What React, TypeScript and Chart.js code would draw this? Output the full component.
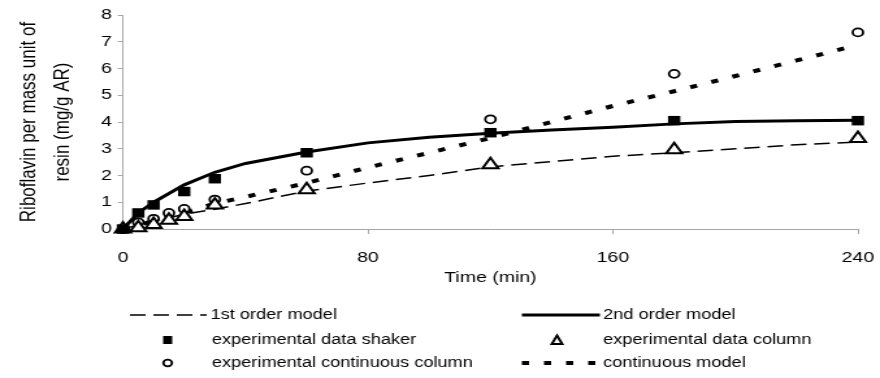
import React, { useEffect, useRef } from 'react';
import { Chart, registerables } from 'chart.js';

Chart.register(...registerables);

// The reference is horizontally stretched; draw at a narrower width and stretch by CSS.
const STRETCH = 1.3;
const WIDTH = 880;
const HEIGHT = 378;
const CW = Math.round(WIDTH / STRETCH);
const FONT = "'Liberation Sans', Arial, sans-serif";

// ---- data ----
const modelTime = [0, 5, 10, 20, 30, 40, 60, 80, 100, 120, 140, 160, 180, 200, 220, 240];
const firstOrder = [0, 0.15, 0.3, 0.55, 0.74, 0.95, 1.42, 1.72, 2.0, 2.32, 2.52, 2.72, 2.85, 3.0, 3.15, 3.25];
const secondOrder = [0, 0.6, 1.0, 1.65, 2.12, 2.45, 2.88, 3.22, 3.43, 3.58, 3.7, 3.8, 3.93, 4.02, 4.05, 4.07];
const continuousModel = [0, 0.15, 0.3, 0.6, 0.95, 1.2, 1.72, 2.3, 2.85, 3.4, 4.0, 4.6, 5.15, 5.72, 6.3, 6.88];

const shakerTime = [0, 5, 10, 20, 30, 60, 120, 180, 240];
const shakerData = [0, 0.6, 0.9, 1.4, 1.88, 2.85, 3.6, 4.05, 4.05];

const columnTime = [0, 5, 10, 15, 20, 30, 60, 120, 180, 240];
const columnData = [0, 0.05, 0.17, 0.33, 0.47, 0.9, 1.47, 2.4, 2.96, 3.38];

const contTime = [0, 5, 10, 15, 20, 30, 60, 120, 180, 240];
const contData = [0, 0.25, 0.38, 0.6, 0.75, 1.1, 2.18, 4.1, 5.8, 7.35];

const xTicks = [0, 80, 160, 240];
const yTitle = ['Riboflavin per mass unit of', 'resin (mg/g AR)'];
const xTitle = 'Time (min)';
const labels = [
  '1st order model',
  '2nd order model',
  'experimental data shaker',
  'experimental data column',
  'experimental continuous column',
  'continuous model',
];

const DASH_1ST = [12, 6];
const DASH_CONT = [5.5, 11.5];

const pts = (xs: number[], ys: number[]) => xs.map((x, i) => ({ x, y: ys[i] }));

export default function App() {
  const ref = useRef<HTMLCanvasElement>(null);

  useEffect(() => {
    const canvas = ref.current!;

    const legendPlugin = {
      id: 'customLegend',
      afterDraw(chart: any) {
        const ctx: CanvasRenderingContext2D = chart.ctx;
        ctx.save();
        ctx.fillStyle = '#000';
        ctx.strokeStyle = '#000';
        ctx.font = `14px ${FONT}`;
        ctx.textBaseline = 'middle';
        ctx.textAlign = 'left';
        const rows = [315, 340, 363];
        const lx1 = 100, lx2 = 159, ltext = 162, lsym = 129, ltext2 = 163;
        const rx1 = 401.5, rx2 = 461.5, rtext = 464, rsym = 428.5;

        const drawLine = (x1: number, x2: number, y: number, w: number, dash: number[]) => {
          ctx.save();
          ctx.lineWidth = w;
          ctx.setLineDash(dash);
          ctx.beginPath();
          ctx.moveTo(x1, y);
          ctx.lineTo(x2, y);
          ctx.stroke();
          ctx.restore();
        };

        // row 1
        drawLine(lx1, lx2, rows[0], 1.5, DASH_1ST);
        ctx.fillText(labels[0], ltext, rows[0]);
        drawLine(rx1, rx2, rows[0], 3, []);
        ctx.fillText(labels[1], rtext, rows[0]);

        // row 2
        ctx.fillRect(lsym - 3.5, rows[1] - 4, 7, 8);
        ctx.fillText(labels[2], ltext2, rows[1]);
        ctx.save();
        ctx.lineWidth = 2;
        ctx.beginPath();
        ctx.moveTo(rsym, rows[1] - 4.5);
        ctx.lineTo(rsym + 4, rows[1] + 4);
        ctx.lineTo(rsym - 4, rows[1] + 4);
        ctx.closePath();
        ctx.stroke();
        ctx.restore();
        ctx.fillText(labels[3], rtext, rows[1]);

        // row 3
        ctx.save();
        ctx.lineWidth = 1.8;
        ctx.beginPath();
        ctx.arc(lsym, rows[2], 3.3, 0, Math.PI * 2);
        ctx.stroke();
        ctx.restore();
        ctx.fillText(labels[4], ltext2, rows[2]);
        drawLine(rx1, rx2, rows[2], 4, DASH_CONT);
        ctx.fillText(labels[5], rtext, rows[2]);
        ctx.restore();
      },
    };

    const chart = new Chart(canvas, {
      type: 'line',
      data: {
        datasets: [
          {
            label: labels[0],
            data: pts(modelTime, firstOrder),
            borderColor: '#000',
            borderWidth: 1.5,
            borderDash: DASH_1ST,
            pointRadius: 0,
            fill: false,
            tension: 0,
            clip: false,
            order: 3,
          },
          {
            label: labels[1],
            data: pts(modelTime, secondOrder),
            borderColor: '#000',
            borderWidth: 3,
            pointRadius: 0,
            fill: false,
            tension: 0,
            clip: false,
            order: 3,
          },
          {
            label: labels[5],
            data: pts(modelTime, continuousModel),
            borderColor: '#000',
            borderWidth: 4,
            borderDash: DASH_CONT,
            pointRadius: 0,
            fill: false,
            tension: 0,
            clip: false,
            order: 3,
          },
          {
            label: labels[2],
            data: pts(shakerTime, shakerData),
            showLine: false,
            pointStyle: 'rect',
            pointRadius: 6.7,
            pointBackgroundColor: '#000',
            pointBorderColor: '#000',
            pointBorderWidth: 0,
            clip: false,
            order: 1,
          },
          {
            label: labels[3],
            data: pts(columnTime, columnData),
            showLine: false,
            pointStyle: 'triangle',
            pointRadius: 7,
            pointBackgroundColor: '#fff',
            pointBorderColor: '#000',
            pointBorderWidth: 2,
            clip: false,
            order: 2,
          },
          {
            label: labels[4],
            data: pts(contTime, contData),
            showLine: false,
            pointStyle: 'circle',
            pointRadius: 4,
            pointBackgroundColor: '#fff',
            pointBorderColor: '#000',
            pointBorderWidth: 1.8,
            clip: false,
            order: 2,
          },
        ],
      },
      options: {
        responsive: false,
        animation: false,
        devicePixelRatio: 1,
        layout: { padding: { top: 15, right: CW - 660, bottom: 91, left: 0 } },
        plugins: {
          legend: { display: false },
          tooltip: { enabled: false },
        },
        scales: {
          x: {
            type: 'linear',
            min: 0,
            max: 240,
            afterBuildTicks: (s: any) => {
              s.ticks = xTicks.map((v) => ({ value: v }));
            },
            ticks: {
              color: '#000',
              font: { family: FONT, size: 15 },
              padding: 15,
              maxRotation: 0,
            },
            grid: {
              display: true,
              drawOnChartArea: false,
              drawTicks: true,
              tickLength: 5,
              color: '#a6a6a6',
            },
            border: { color: '#a6a6a6', width: 1 },
            title: {
              display: true,
              text: xTitle,
              color: '#000',
              font: { family: FONT, size: 15 },
              padding: { top: 0, bottom: 0 },
            },
            afterFit: (s: any) => {
              s.height = 58;
              s.paddingRight = 0;
              s.paddingLeft = 0;
            },
          },
          y: {
            type: 'linear',
            min: 0,
            max: 8,
            ticks: {
              stepSize: 1,
              color: '#000',
              font: { family: FONT, size: 15 },
              padding: 4.6,
            },
            grid: {
              display: true,
              drawOnChartArea: false,
              drawTicks: true,
              tickLength: 4,
              color: '#a6a6a6',
            },
            border: { color: '#a6a6a6', width: 1 },
            title: {
              display: true,
              text: yTitle,
              color: '#000',
              font: { family: FONT, size: 17, lineHeight: 1.5 },
              padding: { top: 10, bottom: 0 },
            },
            afterFit: (s: any) => {
              s.width = 94.6;
              s.paddingTop = 0;
              s.paddingBottom = 0;
            },
          },
        },
      },
      plugins: [legendPlugin],
    } as any);

    return () => chart.destroy();
  }, []);

  return (
    <div style={{ position: 'absolute', left: 0, top: 0, width: WIDTH, height: HEIGHT, background: '#fff' }}>
      <canvas
        ref={ref}
        width={CW}
        height={HEIGHT}
        style={{ width: WIDTH + 'px', height: HEIGHT + 'px', display: 'block' }}
      />
    </div>
  );
}
